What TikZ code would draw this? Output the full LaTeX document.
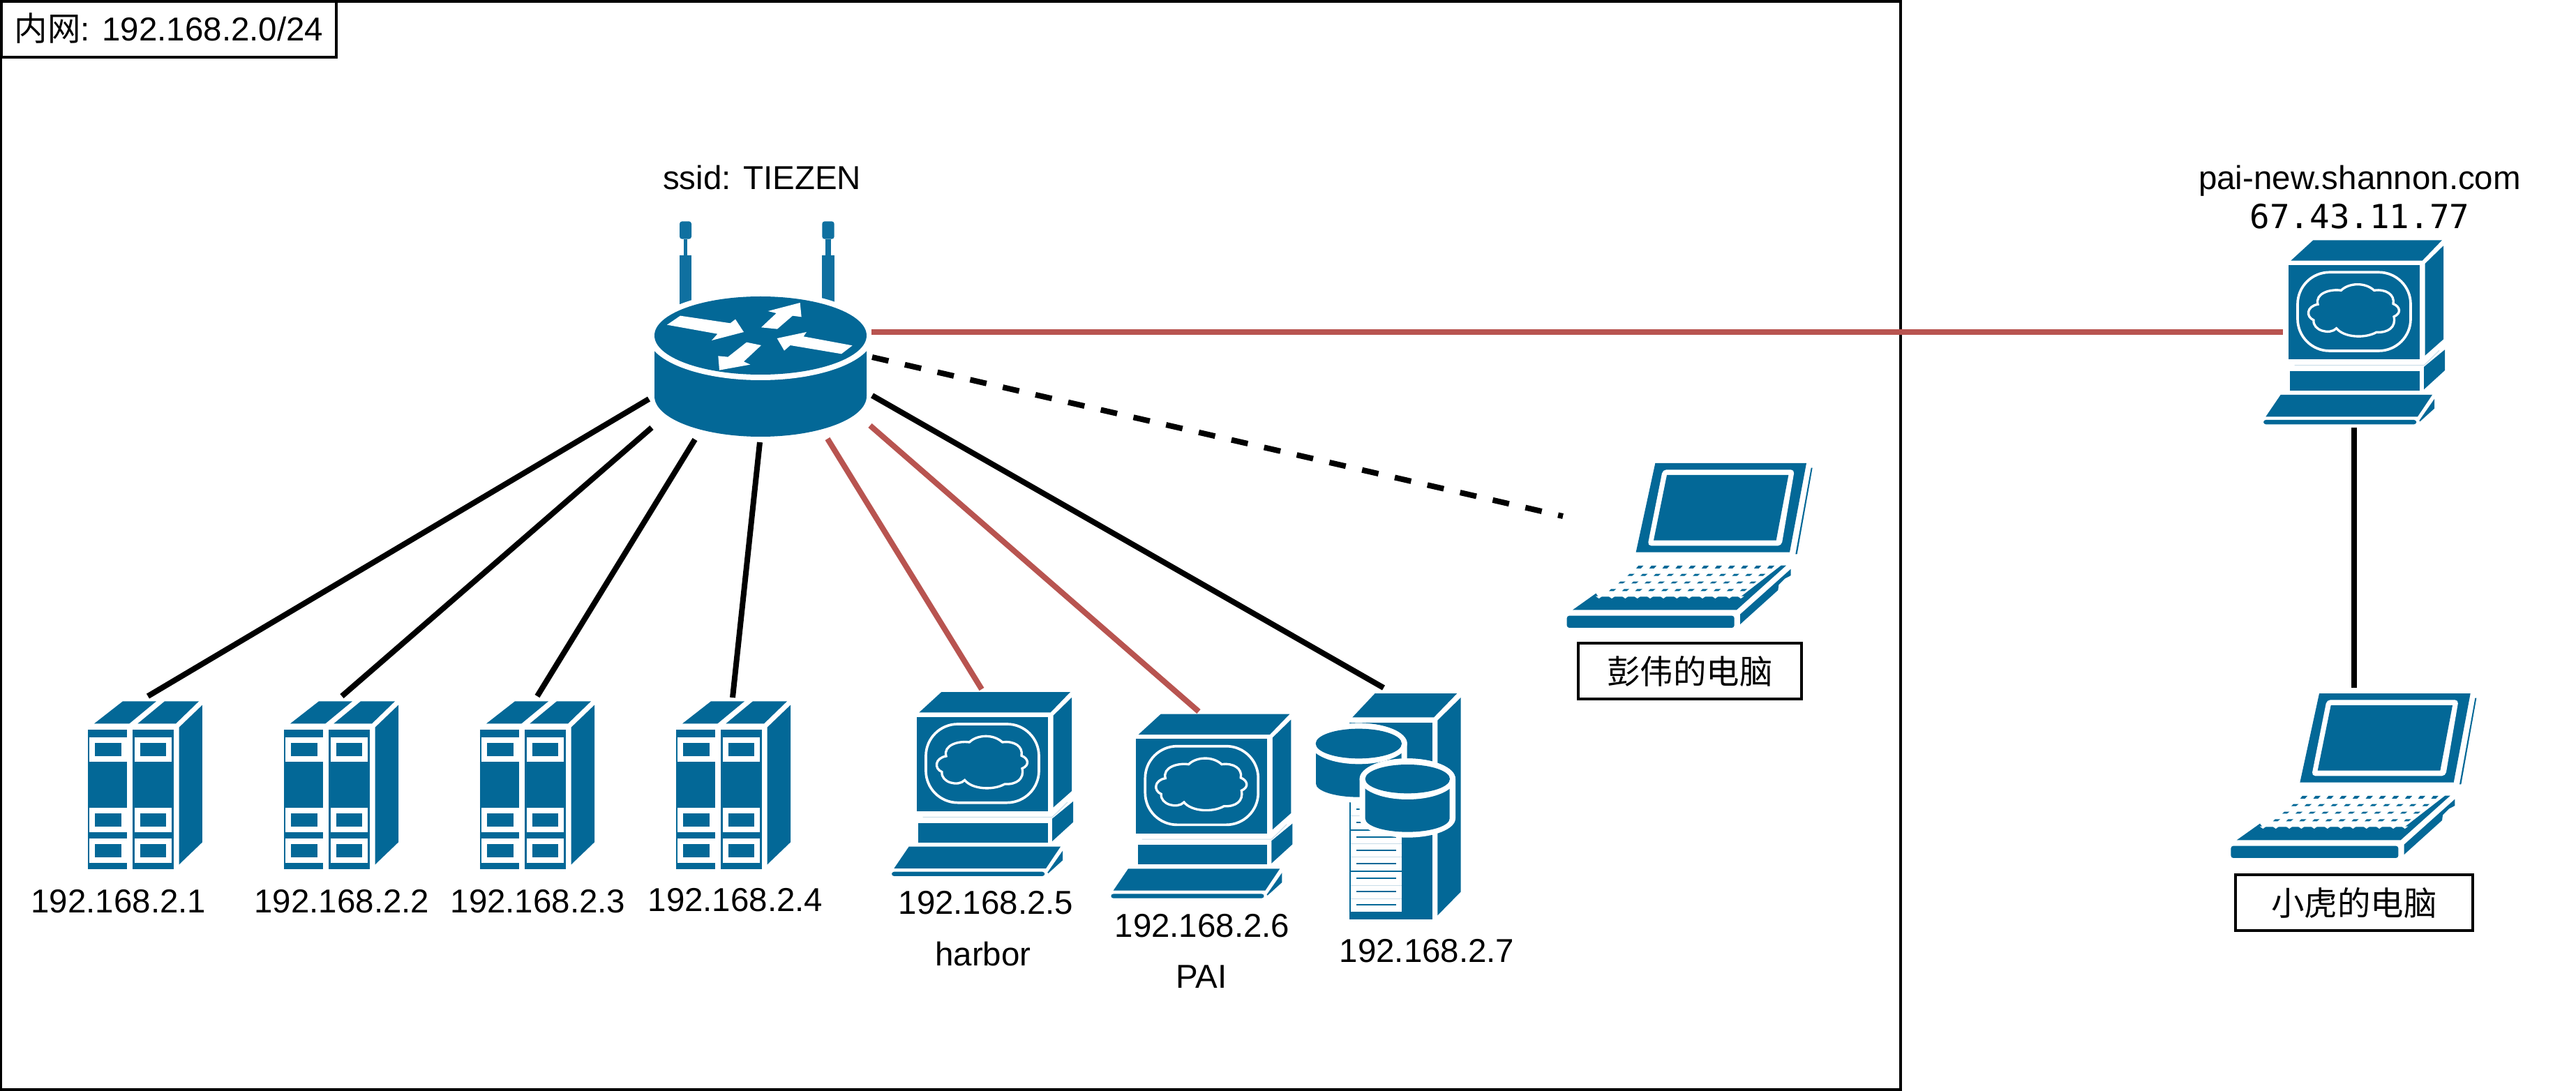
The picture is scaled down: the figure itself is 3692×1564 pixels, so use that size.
\documentclass[tikz,border=0pt]{standalone}
\usepackage{fontspec}
\setmainfont{Liberation Sans}
\newfontfamily\cjkfont{Noto Sans CJK SC}
\newfontfamily\codefont{DejaVu Sans Mono}
\definecolor{ciscoblue}{HTML}{036897}
\definecolor{antblue}{HTML}{0F70A0}
\definecolor{linkred}{HTML}{B85450}
\definecolor{faintblue}{HTML}{C8DCE8}
\newcommand{\iconserver}[2]{%
\begin{scope}[shift={(#1,#2)},scale=0.33333]
\fill[ciscoblue] (165,172)--(288,76)--(432,76)--(316,172)--cycle;
\fill[ciscoblue] (352,172)--(468,76)--(615,76)--(516,172)--cycle;
\fill[ciscoblue] (530,188)--(630,92)--(630,682)--(530,778)--cycle;
\fill[ciscoblue] (137,198) rectangle (306,798);
\fill[ciscoblue] (330,198) rectangle (506,798);
\foreach \ya/\yb/\yc/\yd in {231/336/255/312,534/639/557/615,666/771/690/747}{
  \fill[white] (145,\ya) rectangle (306,\yb);
  \fill[ciscoblue] (169,\yc) rectangle (282,\yd);
  \fill[white] (338,\ya) rectangle (498,\yb);
  \fill[ciscoblue] (362,\yc) rectangle (474,\yd);
}
\end{scope}}
\newcommand{\iconpc}[2]{%
\begin{scope}[shift={(#1,#2)},scale=0.33333]
\fill[ciscoblue] (172,184)--(268,96)--(822,96)--(737,184)--cycle;
\fill[ciscoblue] (749,197)--(828,120)--(828,522)--(749,592)--cycle;
\fill[ciscoblue] (162,203) rectangle (725,609);
\draw[white,line width=1.05pt,rounded corners=13pt] (201,234) rectangle (687,572);
\draw[white,line width=0.95pt] (388,312) .. controls (420,280) and (490,275) .. (530,312)
  .. controls (580,305) and (620,330) .. (612,370)
  .. controls (640,380) and (650,410) .. (615,425)
  .. controls (625,470) and (590,495) .. (540,492)
  .. controls (490,520) and (400,515) .. (368,475)
  .. controls (340,505) and (265,485) .. (270,440)
  .. controls (235,425) and (240,380) .. (288,372)
  .. controls (275,325) and (340,305) .. (388,312) -- cycle;
\draw[faintblue,line width=0.3pt] (188,634)--(745,634)--(810,570);
\fill[ciscoblue] (169,659) rectangle (726,743);
\fill[ciscoblue] (744,641)--(834,567)--(834,656)--(744,738)--cycle;
\fill[ciscoblue] (64,855)--(128,761)--(780,761)--(717,855)--cycle;
\fill[ciscoblue,rounded corners=1pt] (54,869) rectangle (712,888);
\fill[ciscoblue] (724,872)--(789,779)--(789,820)--(727,876)--cycle;
\end{scope}}
\newcommand{\iconlaptop}[2]{%
\begin{scope}[shift={(#1,#2)},scale=0.33333]
\fill[ciscoblue] (344,455)--(427,72)--(1077,72)--(1005,455)--cycle;
\fill[white,rounded corners=1.5pt] (394,427)--(459,100)--(1026,100)--(970,427)--cycle;
\fill[ciscoblue] (420,404)--(477,123)--(1000,123)--(947,404)--cycle;
\fill[ciscoblue] (1030,463)--(1097,92)--(1103,92)--(1037,463)--cycle;
\foreach \xs/\yt/\hh in {345/513/12,307/548/9,268/581/8,228/613/9}{
  \foreach \k in {0,...,10}{
    \fill[ciscoblue] ({\xs+56.3*\k},\yt+\hh)--({\xs+56.3*\k+9},\yt)--({\xs+56.3*\k+31},\yt)--({\xs+56.3*\k+20},\yt+\hh)--cycle;
  }
}
\fill[ciscoblue] (72,703)--(172,632)--(182,646)--(795,646)--(968,512)--(990,512)--(777,703)--cycle;
\foreach \x in {185,240,298,350,405,462,520,572,630,685,745,795}{
  \fill[white] (\x-14,644)--(\x,654)--(\x+14,644)--cycle;
}
\fill[ciscoblue,rounded corners=1pt] (47,728) rectangle (767,780);
\fill[ciscoblue] (792,722)--(1010,527)--(1010,555)--(985,568)--(958,595)--(955,618)--(792,765)--cycle;
\end{scope}}
\newcommand{\icondb}[2]{%
\begin{scope}[shift={(#1,#2)},scale=0.33333]
\fill[ciscoblue] (235,205)--(332,102)--(685,102)--(585,205)--cycle;
\fill[ciscoblue] (601,218)--(701,120)--(701,955)--(601,1057)--cycle;
\fill[ciscoblue] (221,228) rectangle (578,1074);
\fill[white] (228,570) rectangle (446,1040);
\foreach \y in {628,748,806,928,985}{\draw[faintblue,line width=0.4pt] (228,\y)--(446,\y);}
\foreach \y in {690,868}{\draw[ciscoblue,line width=0.5pt] (228,\y)--(446,\y);}
\foreach \y in {600,657,720,778,835,898,955,1012}{\fill[ciscoblue] (252,\y-3.5) rectangle (422,\y+3.5);}
% rear cylinder
\fill[white] (54,318) arc[start angle=180,end angle=360,x radius=208,y radius=88] -- (470,490) arc[start angle=0,end angle=180,x radius=208,y radius=82] -- cycle;
\fill[ciscoblue] (78,318) -- (78,490) arc[start angle=180,end angle=0,x radius=184,y radius=58] -- (446,318) -- cycle;
\fill[white] (262,318) ellipse[x radius=208,y radius=88];
\fill[ciscoblue] (262,318) ellipse[x radius=185,y radius=64];
% front cylinder
\fill[white] (266,470) arc[start angle=180,end angle=360,x radius=206,y radius=88] -- (678,640) arc[start angle=0,end angle=180,x radius=206,y radius=82] -- cycle;
\fill[ciscoblue] (290,470) -- (290,640) arc[start angle=180,end angle=0,x radius=181.5,y radius=58] -- (653,470) -- cycle;
\fill[white] (472,470) ellipse[x radius=206,y radius=88];
\fill[ciscoblue] (472,470) ellipse[x radius=182,y radius=62];
\end{scope}}
\tikzset{
  port/.style={inner sep=0pt,outer sep=0pt,minimum size=0pt},
  txt/.style={inner sep=0pt,outer sep=0pt,anchor=base,font=\fontsize{13.5pt}{16pt}\selectfont},
  boxed/.style={draw=black,line width=1.138pt,inner sep=0pt,outer sep=0pt,fill=white,font=\fontsize{13.5pt}{16pt}\selectfont},
  blackwire/.style={draw=black,line width=2.276pt},
  redwire/.style={draw=linkred,line width=2.276pt},
  dashwire/.style={draw=black,line width=2.276pt,dash pattern=on 6.83pt off 6.83pt},
  thinwire/.style={draw=linkred,line width=1.7pt},
}
\begin{document}
\begin{tikzpicture}[x=0.01cm,y=-0.01cm]
\useasboundingbox (0,0) rectangle (3692,1564);
% frame
\node[draw=black,line width=1.138pt,inner sep=0pt,outer sep=0pt,minimum width=27.21cm,minimum height=15.6cm] (lan) at (1362.5,782) {};
\node[boxed,minimum width=4.8cm,minimum height=0.8cm,text height=12pt,text depth=2.33pt] (lanlabel) at (242,42) {{\cjkfont 内网}: 192.168.2.0/24};
% router
\begin{scope}[shift={(850,200)},scale=0.33333]
\fill[antblue,rounded corners=1pt] (372,352) rectangle (423,428);
\fill[antblue] (391,428) rectangle (405,500);
\fill[antblue] (372,498) rectangle (423,730);
\fill[antblue,rounded corners=1pt] (985,352) rectangle (1037,428);
\fill[antblue] (999,428) rectangle (1023,500);
\fill[antblue] (985,498) rectangle (1037,730);
\end{scope}
\fill[ciscoblue] (938,490) -- (938,568) arc[start angle=180,end angle=0,x radius=152,y radius=58] -- (1242,490) -- cycle;
\fill[white] (1090,481) ellipse[x radius=162,y radius=64];
\fill[ciscoblue] (1090,481) ellipse[x radius=152,y radius=56];
\begin{scope}[shift={(900,420)},scale=0.33333]
\fill[white] (168,137)--(225,98)--(440,130)--(462,113)--(498,168)--(360,204)--(385,176)--cycle;
\fill[white] (573,148)--(638,87)--(602,78)--(740,42)--(746,103)--(708,98)--(642,155)--cycle;
\fill[white] (965,226)--(918,262)--(698,225)--(672,248)--(641,195)--(768,168)--(755,187)--cycle;
\fill[white] (573,225)--(498,295)--(526,308)--(393,332)--(388,271)--(430,275)--(510,212)--cycle;
\end{scope}
% devices
\iconserver{80}{980}
\iconserver{361}{980}
\iconserver{642}{980}
\iconserver{923}{980}
\iconpc{1260}{960}
\iconpc{1574.3}{991.7}
\icondb{1860}{960}
\iconlaptop{2230}{640}
\iconlaptop{3181.7}{970}
\iconpc{3226}{312.3}
% ports
\node[port] (r1) at (930,572) {};
\node[port] (r2) at (934,613) {};
\node[port] (r3) at (996,630) {};
\node[port] (r4) at (1089,634) {};
\node[port] (r5) at (1186,629) {};
\node[port] (r6) at (1247,610) {};
\node[port] (r7) at (1250,567) {};
\node[port] (r8) at (1250,512) {};
\node[port] (r9) at (1249,476) {};
\node[port] (srv1) at (212,998) {};
\node[port] (srv2) at (490,998) {};
\node[port] (srv3) at (770,998) {};
\node[port] (srv4) at (1050,1000) {};
\node[port] (harbor) at (1407,988) {};
\node[port] (pai) at (1718,1020) {};
\node[port] (db) at (1983,986) {};
\node[port] (laptop1) at (2240,740) {};
\node[port] (cloudin) at (3272,476) {};
\node[port] (cloudout) at (3374,613) {};
\node[port] (laptop2) at (3374,986) {};
% connectors
\draw[blackwire] (r1) -- (srv1);
\draw[blackwire] (r2) -- (srv2);
\draw[blackwire] (r3) -- (srv3);
\draw[blackwire] (r4) -- (srv4);
\draw[redwire] (r5) -- (harbor);
\draw[redwire] (r6) -- (pai);
\draw[blackwire] (r7) -- (db);
\draw[dashwire] (r8) -- (laptop1);
\draw[redwire] (r9) -- (cloudin);
\draw[blackwire] (cloudout) -- (laptop2);
% labels
\node[txt] (ssid) at (1092,272) {ssid: TIEZEN};
\node[txt] (ip1) at (170,1308) {192.168.2.1};
\node[txt] (ip2) at (490,1308) {192.168.2.2};
\node[txt] (ip3) at (771,1308) {192.168.2.3};
\node[txt] (ip4) at (1054,1306) {192.168.2.4};
\node[txt] (ip5) at (1413,1310) {192.168.2.5};
\node[txt] (nameh) at (1409,1384) {harbor};
\node[txt] (ip6) at (1723,1343) {192.168.2.6};
\node[txt] (namep) at (1722,1416) {PAI};
\node[txt] (ip7) at (2045,1379) {192.168.2.7};
\node[txt] (host) at (3382,272) {pai-new.shannon.com};
\node[txt,font=\fontsize{13.5pt}{16pt}\selectfont\codefont] (pubip) at (3382,328) {67.43.11.77};
\node[boxed,minimum width=3.2cm,minimum height=0.8cm,text height=12pt,text depth=1.76pt] (pw) at (2422,962) {{\cjkfont 彭伟的电脑}};
\node[boxed,minimum width=3.4cm,minimum height=0.8cm,text height=12pt,text depth=1.76pt] (xh) at (3374,1294) {{\cjkfont 小虎的电脑}};
\end{tikzpicture}
\end{document}
